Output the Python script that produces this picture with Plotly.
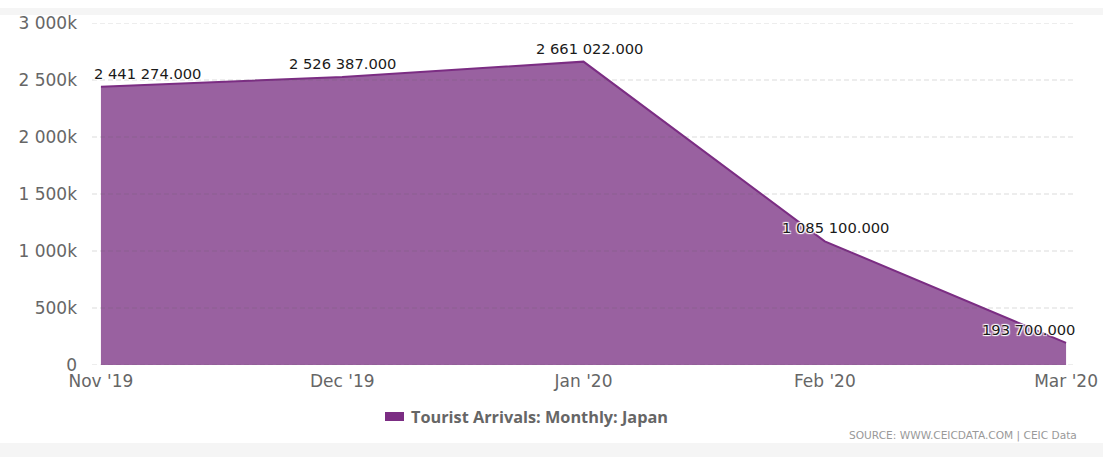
import plotly.graph_objects as go

months = ["Nov '19", "Dec '19", "Jan '20", "Feb '20", "Mar '20"]
arrivals = [2441274, 2526387, 2661022, 1085100, 193700]
labels = ["2 441 274.000", "2 526 387.000", "2 661 022.000", "1 085 100.000", "193 700.000"]
y_tickvals = [0, 500000, 1000000, 1500000, 2000000, 2500000, 3000000]
y_ticktext = ["0", "500k", "1 000k", "1 500k", "2 000k", "2 500k", "3 000k"]
series_name = "Tourist Arrivals: Monthly: Japan"
source_text = "SOURCE: WWW.CEICDATA.COM | CEIC Data"

# label placement styles (pixels)
label_anchor = ["left", "center", "center", "center", "right"]
label_xshift = [-9, 0, 6, 11, 11]

xs = list(range(len(months)))

W, H, L, R, T, B = 1103, 457, 92, 28, 23, 92
pw = W - L - R
ph = H - T - B


def px_x(px):
    return (px - L) / pw


def px_y(py):
    return (T + ph - py) / ph


fig = go.Figure()
fig.add_trace(go.Scatter(
    x=xs, y=arrivals, mode="lines", fill="tozeroy",
    fillcolor="#9961a0", line=dict(color="#7b2d83", width=2),
    showlegend=False, hoverinfo="skip"))

# dashed gridlines drawn above the area
for v in y_tickvals:
    fig.add_shape(type="line", xref="paper", yref="y", x0=0, x1=1, y0=v, y1=v,
                  line=dict(color="rgba(90,90,90,0.22)", width=1, dash="5px,3px"), layer="above")

outline = "1px 1px 1px white, -1px -1px 1px white, 1px -1px 1px white, -1px 1px 1px white"
for x, y, t, xa, xsh in zip(xs, arrivals, labels, label_anchor, label_xshift):
    fig.add_annotation(x=x, y=y, text=t, showarrow=False, xanchor=xa, yanchor="bottom",
                       xshift=xsh, yshift=3,
                       font=dict(family="DejaVu Sans", size=14.7, color="#1a1a1a", shadow=outline))

# legend (custom)
fig.add_shape(type="rect", xref="paper", yref="paper", x0=px_x(385), x1=px_x(404),
              y0=px_y(421), y1=px_y(412), fillcolor="#7b2d83", line_width=0)
fig.add_annotation(xref="paper", yref="paper", x=px_x(409), y=px_y(417), xanchor="left", yanchor="middle",
                   text=series_name, showarrow=False,
                   font=dict(family="Open Sans", size=16.3, color="#666", weight="bold"))

fig.add_annotation(xref="paper", yref="paper", x=px_x(1079), y=px_y(435), xanchor="right", yanchor="middle",
                   text=source_text, showarrow=False,
                   font=dict(family="DejaVu Sans", size=10.6, color="#999"))

# gray page bands
fig.add_shape(type="rect", xref="paper", yref="paper", x0=px_x(0), x1=px_x(W),
              y0=px_y(8), y1=px_y(15), fillcolor="#f5f5f5", line_width=0, layer="below")
fig.add_shape(type="rect", xref="paper", yref="paper", x0=px_x(0), x1=px_x(W),
              y0=px_y(443), y1=px_y(H), fillcolor="#f5f5f5", line_width=0, layer="below")

fig.update_layout(
    width=W, height=H,
    margin=dict(l=L, r=R, t=T, b=B, autoexpand=False),
    paper_bgcolor="white", plot_bgcolor="white",
    font=dict(family="DejaVu Sans", color="#666"),
    xaxis=dict(range=[-0.037, 4.037], tickvals=xs, ticktext=months, showgrid=False,
               zeroline=False, showline=False, ticks="", ticklabelstandoff=4, automargin=False,
               tickfont=dict(family="DejaVu Sans", size=17, color="#666"), fixedrange=True),
    yaxis=dict(range=[0, 3000000], tickvals=y_tickvals, ticktext=y_ticktext, automargin=False,
               showgrid=False, zeroline=False, showline=False, ticks="", ticklabelstandoff=14,
               tickfont=dict(family="DejaVu Sans", size=17, color="#666"), fixedrange=True),
    showlegend=False,
)

fig.write_html("out.html")
